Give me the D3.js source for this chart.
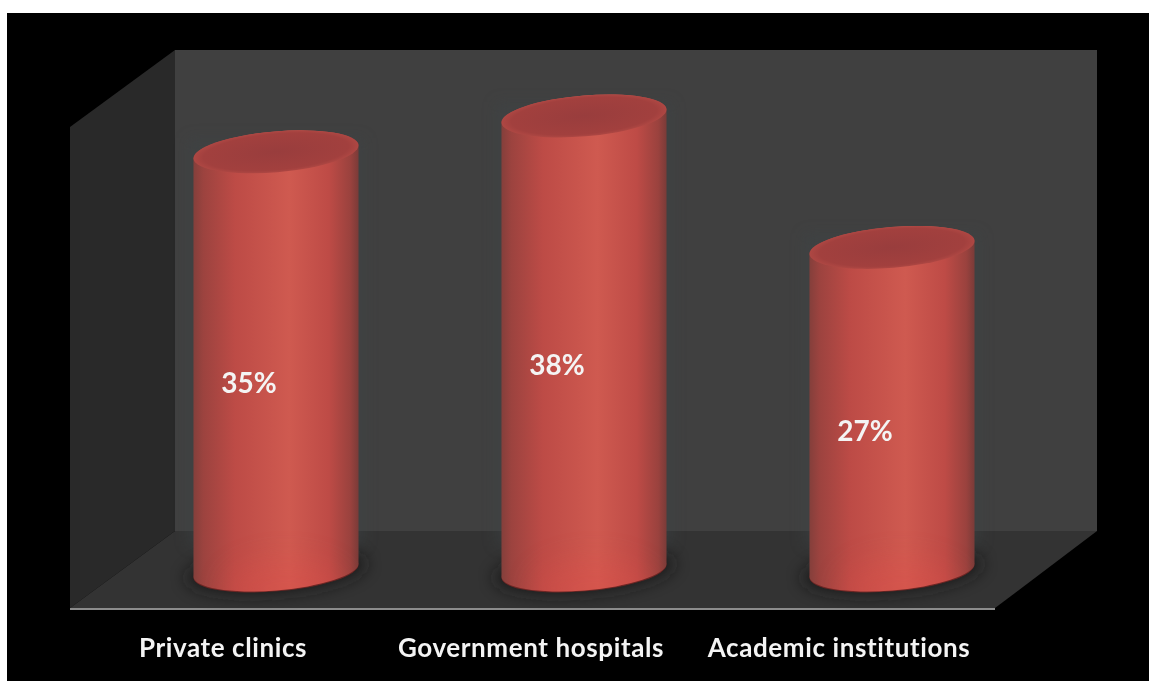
<!DOCTYPE html>
<html>
<head>
<meta charset="utf-8">
<script src="https://cdn.jsdelivr.net/npm/d3@7"></script>
<style>
  html, body { margin: 0; padding: 0; background: #fff; overflow: hidden; }
  text { font-family: Lato, "Open Sans", sans-serif; font-weight: 700; fill: #f4f4f4; }
</style>
</head>
<body>
<div id="chart"></div>
<script>
var categories = ["Private clinics", "Government hospitals", "Academic institutions"];
var values = [35, 38, 27];
var valueLabels = ["35%", "38%", "27%"];

var width = 1149, height = 681;

var svg = d3.select("#chart")
  .append("svg")
    .attr("width", width)
    .attr("height", height)
    .style("display", "block");

var defs = svg.append("defs");

// scales: base of the cylinders sits at y=570, one unit is about 12px
var x = d3.scalePoint()
  .domain(categories)
  .range([276, 892]);

var y = d3.scaleLinear()
  .domain([0, 38])
  .range([570, 116]);

// cylinder ellipse, slightly tilted
var rx = 82.8, ry = 20.4, tilt = -4.8;
var th = tilt * Math.PI / 180;
var t0 = Math.atan(-(ry / rx) * Math.tan(th));
var edgeX = rx * Math.cos(t0) * Math.cos(th) - ry * Math.sin(t0) * Math.sin(th);
var edgeY = rx * Math.cos(t0) * Math.sin(th) + ry * Math.sin(t0) * Math.cos(th);

// gradients
var body = defs.append("linearGradient").attr("id", "body");
[[0, "#843f3b"], [0.06, "#9c433f"], [0.25, "#bd4b46"], [0.58, "#cf5a50"], [0.82, "#be4b46"], [0.95, "#9a423e"], [1, "#7a3b38"]]
  .forEach(function(s) { body.append("stop").attr("offset", s[0]).attr("stop-color", s[1]); });

var cap = defs.append("radialGradient").attr("id", "cap");
cap.append("stop").attr("offset", 0).attr("stop-color", "#993d3d");
cap.append("stop").attr("offset", 0.88).attr("stop-color", "#a2403e");
cap.append("stop").attr("offset", 1).attr("stop-color", "#ae4743");

defs.append("filter").attr("id", "blur8").attr("x", "-30%").attr("y", "-60%").attr("width", "160%").attr("height", "220%")
  .append("feGaussianBlur").attr("stdDeviation", 8);
defs.append("filter").attr("id", "blur14").attr("x", "-40%").attr("y", "-80%").attr("width", "180%").attr("height", "260%")
  .append("feGaussianBlur").attr("stdDeviation", 14);
defs.append("filter").attr("id", "blur5").attr("x", "-30%").attr("y", "-10%").attr("width", "160%").attr("height", "120%")
  .append("feGaussianBlur").attr("stdDeviation", 7);
defs.append("filter").attr("id", "soft").attr("x", "-10%").attr("y", "-10%").attr("width", "120%").attr("height", "120%")
  .append("feGaussianBlur").attr("stdDeviation", 0.5);

// black backdrop
svg.append("rect").attr("x", 7).attr("y", 13).attr("width", width - 7).attr("height", height - 13).attr("fill", "#000");

// 3d box: back wall, side wall, floor
var box = svg.append("g");
var line = d3.line();
box.append("path").attr("d", line([[175, 50], [1097, 50], [1097, 531], [175, 531]]) + "Z").attr("fill", "#404040");
box.append("path").attr("d", line([[70, 127], [175, 50], [175, 531], [70, 608]]) + "Z").attr("fill", "#292929");
box.append("path").attr("d", line([[175, 531], [1097, 531], [995, 608], [70, 608]]) + "Z").attr("fill", "#333333");
box.append("line").attr("x1", 70).attr("x2", 995).attr("y1", 609).attr("y2", 609).attr("stroke", "#8c8c8c").attr("stroke-width", 2);

var bars = svg.selectAll("g.bar")
  .data(categories)
  .enter()
  .append("g")
    .attr("class", "bar");

// floor shadow and faint halo on the wall
bars.append("ellipse")
  .attr("transform", function(d) { return "translate(" + x(d) + "," + (y(0) + 1) + ") rotate(" + tilt + ")"; })
  .attr("rx", rx + 8).attr("ry", ry + 3)
  .attr("fill", "#141414").attr("opacity", 0.7).attr("filter", "url(#blur8)");

bars.append("rect")
  .attr("x", function(d) { return x(d) - edgeX - 6; })
  .attr("width", edgeX * 2 + 12)
  .attr("y", function(d, i) { return y(values[i]) - 14; })
  .attr("height", function(d, i) { return y(0) - y(values[i]) - 10; })
  .attr("fill", "#3c4547").attr("opacity", 0.4).attr("filter", "url(#blur5)");

function bodyPath(d, i) {
  var c = x(d), top = y(values[i]), base = y(0);
  return "M" + (c - edgeX) + "," + (top - edgeY) +
    "L" + (c - edgeX) + "," + (base - edgeY) +
    "A" + rx + "," + ry + " " + tilt + " 0 0 " + (c + edgeX) + "," + (base + edgeY) +
    "L" + (c + edgeX) + "," + (top + edgeY) +
    "A" + rx + "," + ry + " " + tilt + " 0 0 " + (c - edgeX) + "," + (top - edgeY) + "Z";
}

// dark lip under the base
bars.append("ellipse")
  .attr("transform", function(d) { return "translate(" + x(d) + "," + (y(0) + 1) + ") rotate(" + tilt + ")"; })
  .attr("rx", rx).attr("ry", ry)
  .attr("fill", "#6e2624");

bars.append("path").attr("d", bodyPath).attr("fill", "url(#body)");

bars.append("clipPath")
  .attr("id", function(d, i) { return "clip" + i; })
  .append("path").attr("d", bodyPath);

// brighter red low on the body, towards the bottom edge
bars.append("g")
  .attr("clip-path", function(d, i) { return "url(#clip" + i + ")"; })
  .append("ellipse")
    .attr("cx", function(d) { return x(d) + 10; })
    .attr("cy", y(0) + 18)
    .attr("rx", 62).attr("ry", 30)
    .attr("fill", "#e4504a").attr("opacity", 0.3).attr("filter", "url(#blur14)");

bars.append("ellipse")
  .attr("transform", function(d, i) { return "translate(" + x(d) + "," + y(values[i]) + ") rotate(" + tilt + ")"; })
  .attr("rx", rx).attr("ry", ry)
  .attr("fill", "url(#cap)");

// value labels
svg.selectAll("text.value")
  .data(valueLabels)
  .enter()
  .append("text")
    .attr("class", "value")
    .attr("x", function(d, i) { return x(categories[i]) - 27; })
    .attr("y", function(d, i) { return y(values[i] / 2) + 32; })
    .attr("text-anchor", "middle")
    .attr("font-size", 28)
    .attr("filter", "url(#soft)")
    .text(function(d) { return d; });

// category labels
svg.selectAll("text.cat")
  .data(categories)
  .enter()
  .append("text")
    .attr("class", "cat")
    .attr("x", function(d) { return x(d) - 53; })
    .attr("y", 657)
    .attr("text-anchor", "middle")
    .attr("font-size", 26)
    .attr("letter-spacing", 0.6)
    .attr("filter", "url(#soft)")
    .text(function(d) { return d; });
</script>
</body>
</html>
